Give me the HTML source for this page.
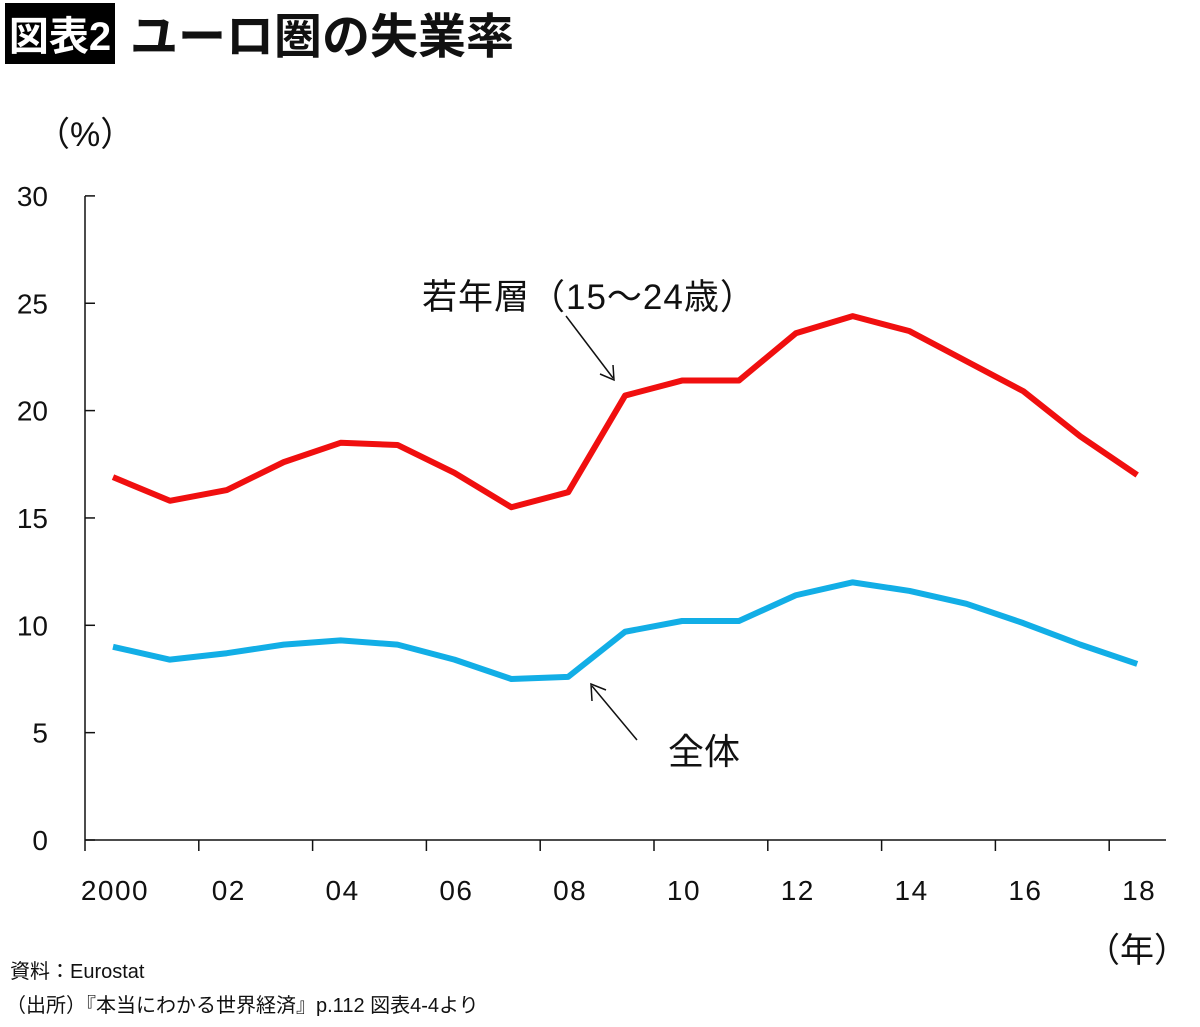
<!DOCTYPE html>
<html><head><meta charset="utf-8">
<style>
body{margin:0;width:1200px;height:1022px;background:#fff;overflow:hidden;font-family:"Liberation Sans","Noto Sans CJK JP",sans-serif;}
svg text{font-family:"Liberation Sans","Noto Sans CJK JP",sans-serif;}
</style></head><body>
<svg id="chart" width="1200" height="1022">
<rect x="5" y="3" width="110" height="61" fill="#000"/>
<text x="60" y="50" fill="#fff" font-size="40" font-weight="bold" text-anchor="middle">図表2</text>
<text x="130" y="53" fill="#111" font-size="48" font-weight="bold">ユーロ圏の失業率</text>
<text x="36" y="146" font-size="34" fill="#111">（%）</text>
<text x="1086" y="962" font-size="34" fill="#111">（年）</text>
<text x="10" y="978" font-size="20" fill="#111">資料：Eurostat</text>
<text x="6" y="1012" font-size="20" fill="#111">（出所）『本当にわかる世界経済』p.112 図表4-4より</text>
<g id="axes"></g>
<g id="series"></g>
<text x="422" y="309" font-size="35" letter-spacing="1" fill="#111">若年層（15〜24歳）</text>
<text x="668" y="764" font-size="36" fill="#111">全体</text>
<line x1="566" y1="316" x2="613" y2="378" stroke="#111" stroke-width="1.5"/>
<polyline points="600,374 614,380 613,365" fill="none" stroke="#111" stroke-width="1.5"/>
<line x1="637" y1="740" x2="592" y2="686" stroke="#111" stroke-width="1.5"/>
<polyline points="592,701 591,684 606,690" fill="none" stroke="#111" stroke-width="1.5"/>
</svg>
<script>
const years=[2000,2001,2002,2003,2004,2005,2006,2007,2008,2009,2010,2011,2012,2013,2014,2015,2016,2017,2018];
const youth=[16.9,15.8,16.3,17.6,18.5,18.4,17.1,15.5,16.2,20.7,21.4,21.4,23.6,24.4,23.7,22.3,20.9,18.8,17.0];
const total=[9.0,8.4,8.7,9.1,9.3,9.1,8.4,7.5,7.6,9.7,10.2,10.2,11.4,12.0,11.6,11.0,10.1,9.1,8.2];
const yTicks=[0,5,10,15,20,25,30];
const xLabels=["2000","02","04","06","08","10","12","14","16","18"];
const NS="http://www.w3.org/2000/svg";
const x=i=>113+i*56.9;
const y=v=>840-v*21.47;
const ax=document.getElementById('axes');
function mk(t,a,p){const e=document.createElementNS(NS,t);for(const k in a)e.setAttribute(k,a[k]);p.appendChild(e);return e;}
let e=mk('line',{x1:85,y1:196,x2:85,y2:840,stroke:'#111','stroke-width':1.5},ax);


e=mk('line',{x1:85,y1:840,x2:1166,y2:840,stroke:'#111','stroke-width':1.5},ax);


yTicks.forEach(v=>{
 mk('line',{x1:85,y1:y(v),x2:95,y2:y(v),stroke:'#111','stroke-width':1.5},ax);
 const t=mk('text',{x:48,y:y(v)+10,'font-size':28,'text-anchor':'end',fill:'#111'},ax);t.textContent=v;
 
 
});
for(let k=0;k<=9;k++){const px=85+k*113.8;mk('line',{x1:px,y1:840,x2:px,y2:851,stroke:'#111','stroke-width':1.5},ax);}
xLabels.forEach((l,k)=>{
 const t=mk('text',{x:x(k*2)+2,y:900,'font-size':28,'letter-spacing':1.5,'text-anchor':'middle',fill:'#111'},ax);t.textContent=l;
 
 
});
const sg=document.getElementById('series');
[[youth,'#f00f0f','youth-line'],[total,'#12aee6','total-line']].forEach(([d,c,n])=>{
 const p=mk('polyline',{points:d.map((v,i)=>x(i)+','+y(v)).join(' '),fill:'none',stroke:c,'stroke-width':6,'stroke-linejoin':'round'},sg);
 
 
});
</script>
</body></html>
